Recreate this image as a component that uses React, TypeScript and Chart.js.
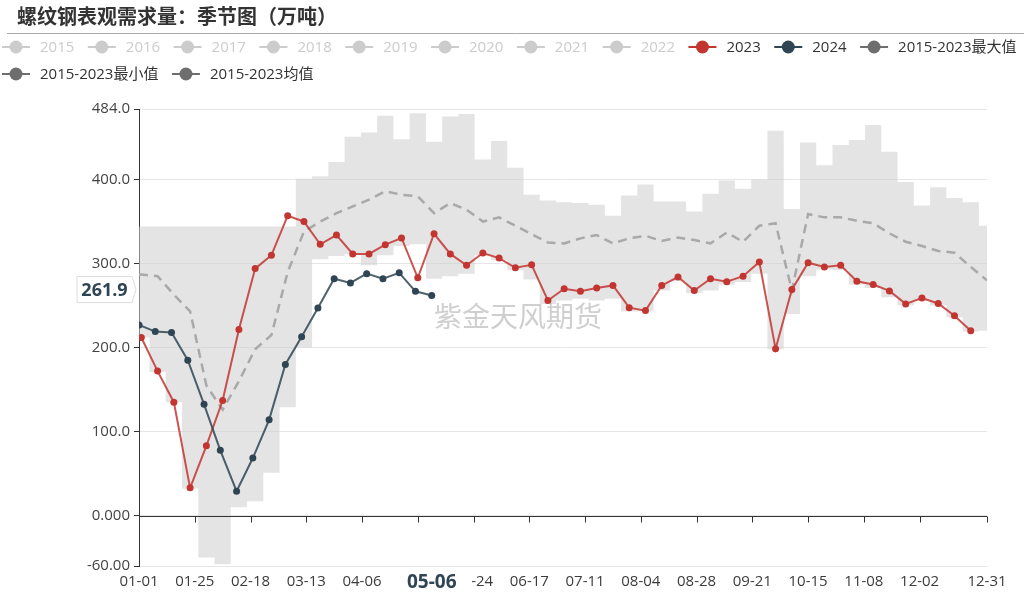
import React, { useEffect, useRef } from "react";
import { Chart, registerables } from "chart.js";

Chart.register(...registerables);

// ---------- data ----------
const TITLE = "螺纹钢表观需求量：季节图（万吨）";
const WATERMARK = "紫金天风期货";

const legendNames = [
  "2015", "2016", "2017", "2018", "2019", "2020", "2021", "2022",
  "2023", "2024", "2015-2023最大值", "2015-2023最小值", "2015-2023均值",
];

const xTickLabels = [
  "01-01", "01-25", "02-18", "03-13", "04-06", "04-30", "05-24", "06-17",
  "07-11", "08-04", "08-28", "09-21", "10-15", "11-08", "12-02", "12-31",
];
const yTickValues = [-60, 0, 100, 200, 300, 400, 484];

// 2024 weekly values starting 01-01
const start2024 = "01-01";
const values2024 = [
  227, 219, 218, 185, 132.5, 77.7, 29, 68.5, 114, 180, 213, 247, 282, 277,
  288, 282, 289, 267, 261.9,
];

// 2023 weekly values starting 01-02
const start2023 = "01-02";
const values2023 = [
  212, 172, 135, 33, 83, 137, 221.5, 294, 310, 357, 350, 323, 334, 311.5,
  311.5, 322.5, 330.5, 283, 335.5, 311.5, 298, 312.5, 306.5, 295, 298.5, 256,
  270, 267, 271, 274, 247.5, 244, 274, 284, 268, 282, 278.5, 285, 302, 198.5,
  269, 301, 296, 298, 279, 275, 267.5, 252, 259, 252.5, 238, 220,
];

// 2015-2023 statistics, weekly from 01-02 to 12-31
const startBand = "01-02";
const bandMax = [
  344, 344, 344, 344, 344, 344, 344, 344, 344, 344, 401, 404, 421, 451, 456,
  476, 448, 479, 445, 475, 478, 424, 446, 414, 382, 375, 373, 372, 370, 357,
  381, 394, 374, 374, 362, 383, 399, 389, 400, 458, 365, 444, 417, 441, 447,
  465, 433, 397, 369, 391, 378, 373, 345,
];
const bandMin = [
  212, 171, 135, 32, -50, -58, 10, 17, 51, 129, 200, 305, 309, 311, 298, 310,
  321, 323, 282, 285, 288, 310, 304, 292, 281, 252, 256, 258, 256, 258, 243,
  243, 268, 279, 265, 268, 275, 278, 288, 198, 240, 285, 293, 292, 275, 271,
  260, 250, 256, 250, 236, 219, 220,
];
const bandMean = [
  287, 285, 263, 243, 155, 126, 160, 198, 215, 290, 338, 350, 360, 368, 376,
  386, 382, 380, 360, 372, 364, 350, 355, 345, 335, 325, 324, 330, 334, 324,
  330, 333, 327, 331, 328, 324, 337, 326, 345, 348, 268, 359, 355, 355, 351,
  348, 336, 326, 321, 315, 313, 296, 280,
];

const pointerDate = "05-06";
const pointerValue = 261.9;

// ---------- helpers ----------
const DAY = 86400000;
const BASE = Date.UTC(2024, 0, 1);
const pad = (n: number) => (n < 10 ? "0" + n : "" + n);
const dayOf = (mmdd: string) => {
  const [m, d] = mmdd.split("-").map(Number);
  return Math.round((Date.UTC(2024, m - 1, d) - BASE) / DAY);
};
const labelOf = (day: number) => {
  const dt = new Date(BASE + Math.round(day) * DAY);
  return pad(dt.getUTCMonth() + 1) + "-" + pad(dt.getUTCDate());
};
const weekly = (start: string, vals: number[]) =>
  vals.map((v, i) => ({ x: dayOf(start) + 7 * i, y: v }));
const withYearStart = (pts: { x: number; y: number }[]) =>
  pts[0].x > 0 ? [{ x: 0, y: pts[0].y }, ...pts] : pts;

// ---------- styles ----------
const FONT = '"Open Sans", "Noto Sans CJK SC", sans-serif';
const CJK = '"Noto Sans CJK SC", "Open Sans", sans-serif';
const RED = "#c23531";
const DARK = "#2f4554";
const GREY_ITEM = "#cccccc";
const STAT = "#6e6e6e";
const legendColors: Record<string, string> = {
  "2023": RED,
  "2024": DARK,
  "2015-2023最大值": STAT,
  "2015-2023最小值": STAT,
  "2015-2023均值": STAT,
};

const decor = {
  id: "decor",
  afterDatasetsDraw(chart: any) {
    const { ctx, chartArea, scales } = chart;
    const x = scales.x;
    const y = scales.y;
    ctx.save();
    // watermark
    ctx.font = "28px " + CJK;
    ctx.fillStyle = "rgba(175,175,175,0.6)";
    ctx.textAlign = "center";
    ctx.textBaseline = "middle";
    ctx.fillText(
      WATERMARK,
      chartArea.left + chartArea.width * 0.447,
      chartArea.top + chartArea.height * 0.453
    );
    // zero axis line with ticks
    const y0 = Math.round(y.getPixelForValue(0)) + 0.5;
    ctx.strokeStyle = "#333";
    ctx.lineWidth = 1;
    ctx.beginPath();
    ctx.moveTo(chartArea.left, y0);
    ctx.lineTo(chartArea.right, y0);
    for (const t of x.ticks) {
      const px = Math.round(x.getPixelForValue(t.value)) + 0.5;
      ctx.moveTo(px, y0);
      ctx.lineTo(px, y0 + 6);
    }
    ctx.stroke();
    ctx.restore();
  },
  afterDraw(chart: any) {
    const { ctx, chartArea, scales, width } = chart;
    ctx.save();
    // title
    ctx.font = "bold 20px " + CJK;
    ctx.fillStyle = "#333";
    ctx.textAlign = "left";
    ctx.textBaseline = "middle";
    ctx.fillText(TITLE, 17, 16);
    // separator
    ctx.strokeStyle = "#aaa";
    ctx.lineWidth = 1;
    ctx.beginPath();
    ctx.moveTo(7, 33.5);
    ctx.lineTo(width, 33.5);
    ctx.stroke();
    // legend
    ctx.font = "15px " + FONT;
    let lx = 2;
    let ly = 47;
    const iconW = 28;
    const textGap = 10;
    const itemGap = 13.5;
    for (const name of legendNames) {
      const tw = ctx.measureText(name).width;
      const w = iconW + textGap + tw;
      if (lx + w > width) {
        lx = 2;
        ly += 27;
      }
      const c = legendColors[name] || GREY_ITEM;
      ctx.strokeStyle = c;
      ctx.lineWidth = 2;
      ctx.beginPath();
      ctx.moveTo(lx, ly);
      ctx.lineTo(lx + iconW, ly);
      ctx.stroke();
      ctx.fillStyle = c;
      ctx.beginPath();
      ctx.arc(lx + iconW / 2, ly, 6.5, 0, Math.PI * 2);
      ctx.fill();
      ctx.fillStyle = legendColors[name] ? "#333" : GREY_ITEM;
      ctx.fillText(name, lx + iconW + textGap, ly + 1);
      lx += w + itemGap;
    }
    // x pointer label
    const px = scales.x.getPixelForValue(dayOf(pointerDate));
    ctx.fillStyle = "#fff";
    ctx.fillRect(px - 40, chartArea.bottom + 3, 80, 26);
    ctx.font = "bold 19px " + FONT;
    ctx.fillStyle = DARK;
    ctx.textAlign = "center";
    ctx.fillText(pointerDate, px, chartArea.bottom + 17);
    // y pointer label
    const py = scales.y.getPixelForValue(pointerValue) - 6;
    const right = chartArea.left - 7;
    const left = right - 55;
    ctx.beginPath();
    ctx.moveTo(left, py - 13);
    ctx.lineTo(right, py - 13);
    ctx.lineTo(right + 4, py);
    ctx.lineTo(right, py + 13);
    ctx.lineTo(left, py + 13);
    ctx.closePath();
    ctx.fillStyle = "#fff";
    ctx.fill();
    ctx.strokeStyle = "#dcdcdc";
    ctx.lineWidth = 1;
    ctx.stroke();
    ctx.font = "bold 18px " + FONT;
    ctx.fillStyle = DARK;
    ctx.fillText(pointerValue.toFixed(1), (left + right) / 2, py + 1);
    ctx.restore();
  },
};

export default function App() {
  const ref = useRef<HTMLCanvasElement | null>(null);

  useEffect(() => {
    if (!ref.current) return;
    Chart.defaults.font.family = FONT;
    Chart.defaults.font.size = 15;
    const chart = new Chart(ref.current, {
      type: "line",
      data: {
        datasets: [
          {
            label: "2024",
            data: weekly(start2024, values2024),
            borderColor: "rgba(47,69,84,0.85)",
            borderWidth: 2,
            pointRadius: 3.5,
            pointBackgroundColor: DARK,
            pointBorderWidth: 0,
            fill: false,
          },
          {
            label: "2023",
            data: weekly(start2023, values2023),
            borderColor: "rgba(194,53,49,0.85)",
            borderWidth: 2,
            pointRadius: 3.5,
            pointBackgroundColor: RED,
            pointBorderWidth: 0,
            fill: false,
          },
          {
            label: "2015-2023均值",
            data: withYearStart(weekly(startBand, bandMean)),
            borderColor: "#a9a9a9",
            borderWidth: 2.5,
            borderDash: [9, 6],
            pointRadius: 0,
            fill: false,
          },
          {
            label: "2015-2023最大值",
            data: withYearStart(weekly(startBand, bandMax)),
            stepped: "middle",
            borderColor: "transparent",
            borderWidth: 0,
            pointRadius: 0,
            fill: false,
          },
          {
            label: "2015-2023最小值",
            data: withYearStart(weekly(startBand, bandMin)),
            stepped: "middle",
            borderColor: "transparent",
            borderWidth: 0,
            pointRadius: 0,
            backgroundColor: "rgba(205,205,205,0.55)",
            fill: "-1",
          },
        ] as any,
      },
      options: {
        animation: false,
        responsive: false,
        devicePixelRatio: 1,
        layout: { padding: { left: 0, top: 109, right: 37, bottom: 0 } },
        plugins: {
          legend: { display: false },
          tooltip: { enabled: false },
          title: { display: false },
        },
        scales: {
          x: {
            type: "linear",
            min: 0,
            max: 365,
            afterFit: (s: any) => {
              s.height = 29;
            },
            afterBuildTicks: (s: any) => {
              s.ticks = xTickLabels.map((l) => ({ value: dayOf(l) }));
            },
            grid: { display: false, drawTicks: false },
            border: { display: false },
            ticks: {
              autoSkip: false,
              maxRotation: 0,
              minRotation: 0,
              padding: 7,
              color: "#3c3c3c",
              font: { size: 15 },
              callback: (v: any) => labelOf(Number(v)),
            },
          },
          y: {
            type: "linear",
            min: -60,
            max: 484,
            afterFit: (s: any) => {
              s.width = 139;
            },
            afterBuildTicks: (s: any) => {
              s.ticks = yTickValues.map((v) => ({ value: v }));
            },
            grid: {
              color: "#e6e6e6",
              tickColor: "#333",
              tickLength: 5,
            },
            border: { display: true, color: "#333", width: 1 },
            ticks: {
              padding: 4,
              color: "#444",
              font: { size: 15 },
              callback: (v: any) => Number(v).toPrecision(4),
            },
          },
        },
      } as any,
      plugins: [decor],
    });
    return () => chart.destroy();
  }, []);

  return (
    <div style={{ position: "absolute", left: 0, top: 0, width: 1024, height: 595, background: "#fff" }}>
      <canvas ref={ref} width={1024} height={595} />
    </div>
  );
}
